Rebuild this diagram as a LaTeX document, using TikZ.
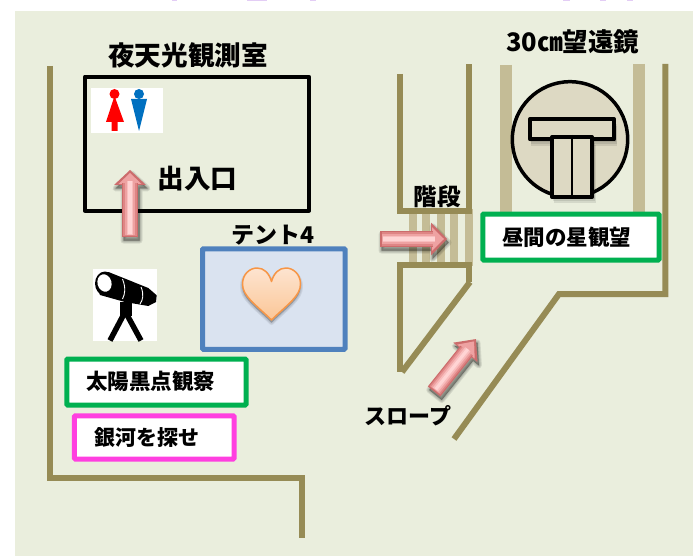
\documentclass[tikz,border=0pt]{standalone}
\usepackage{fontspec}
\setmainfont{Noto Sans CJK JP}
\definecolor{bgc}{HTML}{EAEEDD}
\definecolor{wall}{HTML}{968B55}
\definecolor{pale}{HTML}{C4BC96}
\definecolor{disc}{HTML}{DDD9C3}
\definecolor{grn}{HTML}{00B050}
\definecolor{mag}{HTML}{FF3FE0}
\definecolor{tentb}{HTML}{4F81BD}
\definecolor{tentf}{HTML}{DAE3F0}
\definecolor{bluem}{HTML}{0070C0}
\definecolor{lil}{HTML}{E3CDF5}
\definecolor{arA}{HTML}{CC6C6C}
\definecolor{arB}{HTML}{DE8585}
\definecolor{arC}{HTML}{EEA2A2}
\definecolor{arD}{HTML}{F8BEBE}
\definecolor{arE}{HTML}{FFD4D4}
\definecolor{heartb}{HTML}{F79646}
\definecolor{heartt}{HTML}{FDE4D0}
\definecolor{heartl}{HTML}{FBC696}
\tikzset{
  x=1pt,y=-1pt,
  wallline/.style={draw=wall,line width=6pt,line join=miter},
  paleline/.style={draw=pale,line width=8pt},
  blk/.style={draw=black,line width=4pt,line join=round},
  label/.style={font=\bfseries\fontsize{#1}{#1}\selectfont,inner sep=0pt,text=black},
  signbox/.style={draw=#1,fill=white,line width=5pt,rounded corners=1pt,inner sep=0pt},
}
\newcommand{\pinkarrow}[7]{%
  \pgfmathsetmacro{\arang}{atan2((#2)-(#4),(#3)-(#1))}%
  \pgfmathsetmacro{\arlen}{veclen((#3)-(#1),(#4)-(#2))}%
  \pgfmathsetmacro{\arbase}{\arlen-(#7)}%
  \begin{scope}[shift={(#1+1.5,#2+3.5)},rotate=\arang]
    \foreach \w in {6,4,2,0.5}
      \draw[black,opacity=.09,fill=black,line join=round,line width=\w pt]
        (0,-#5)--(\arbase,-#5)--(\arbase,-#6)--(\arlen,0)--(\arbase,#6)--(\arbase,#5)--(0,#5)--cycle;
  \end{scope}
  \begin{scope}[shift={(#1,#2)},rotate=\arang]
    \fill[arA] (\arbase,-#6)--(\arlen,0)--(\arbase,#6)--cycle;
    \fill[arC] (\arbase+1,-#6*.72)--(\arlen-3,0)--(\arbase+1,#6*.72)--cycle;
    \fill[arA] (0,-#5) rectangle (\arbase+2,#5);
    \fill[arB] (1.5,-#5*.85) rectangle (\arbase+2,#5*.85);
    \fill[arC] (2,-#5*.65) rectangle (\arbase+3,#5*.65);
    \fill[arD] (2.5,-#5*.42) rectangle (\arbase+4,#5*.42);
    \fill[arE] (3,-#5*.2) rectangle (\arbase+4,#5*.2);
  \end{scope}
}
\begin{document}
\begin{tikzpicture}
\useasboundingbox (0,0) rectangle (693,556);
\fill[white] (0,0) rectangle (693,556);
\fill[bgc] (15,11) rectangle (693,556);
% clipped fragments along the top edge
\fill[lil] (172,0) rectangle (177,1.5);
\fill[lil] (247,0) rectangle (267,1.5);
\fill[lil] (310,0) rectangle (316,1.5);
\fill[lil] (563,0) rectangle (570,1.5);
\fill[lil] (600,0) rectangle (606,1.5);
\fill[lil] (627,0) rectangle (633,1.5);

% walls, left area
\draw[wallline] (49.5,66) -- (49.5,477.5) -- (302,477.5) -- (302,537.5);

% stairs
\foreach \sx in {412.7,426,441,454.3,469}
  \draw[draw=pale,line width=8pt] (\sx,209) -- (\sx,266);
\draw[wallline] (400,74) -- (400,211) -- (469,211) -- (469,64);
\draw[wallline] (469,282) -- (469,265) -- (400,265) -- (400,372);
\draw[wallline] (402,372) -- (470,282);

% telescope room
\draw[paleline,line width=12pt] (506,65) -- (506,214);
\draw[paleline,line width=12pt] (639.3,64) -- (639.3,214);
\draw[wallline] (665.3,64) -- (665.3,294) -- (559,294) -- (454,439);

% night sky room
\draw[draw=black,line width=4pt,line join=round] (85,76.7) rectangle (309,210.7);
\node[label=26.6] (nightroom) at (188,55) {夜天光観測室};
\node[label=26.6] (entrance) at (197.5,179) {出入口};

% toilet sign
\fill[white] (91,88) rectangle (163,133);
\fill[red] (114.5,94) circle (5);
\fill[red] (114.5,96) -- (124,122) -- (117.7,122) -- (117.7,131) -- (111.7,131) -- (111.7,122) -- (106,122) -- cycle;
\fill[bluem] (139,94) circle (5);
\fill[bluem] (131,99) -- (147,99) -- (139,131) -- cycle;

% entrance arrow
\pinkarrow{130}{237}{130}{170}{8}{16}{15}

% tent
\node[label=23] (tentlabel) at (273,235.5) {テント4};
\node[draw=tentb,fill=tentf,line width=5pt,rounded corners=1pt,minimum width=142.5pt,minimum height=100.5pt,inner sep=0pt] (tent) at (273.75,299) {};
\foreach \w in {5,3,1}
  \draw[black,opacity=.07,line width=\w pt,line join=round,fill=black,shift={(0,2.5)}]
    (271.5,320) .. controls (255,304) and (242.5,296) .. (242.5,284) .. controls (242.5,274) and (250,268) .. (257,268) .. controls (264,268) and (269,273) .. (271.5,281.5) .. controls (274,273) and (279,268) .. (286,268) .. controls (293,268) and (300.5,274) .. (300.5,284) .. controls (300.5,296) and (288,304) .. (271.5,320) -- cycle;
\draw[draw=heartb,line width=1.5pt,top color=heartt,bottom color=heartl,line join=round]
    (271.5,320) .. controls (255,304) and (242.5,296) .. (242.5,284) .. controls (242.5,274) and (250,268) .. (257,268) .. controls (264,268) and (269,273) .. (271.5,281.5) .. controls (274,273) and (279,268) .. (286,268) .. controls (293,268) and (300.5,274) .. (300.5,284) .. controls (300.5,296) and (288,304) .. (271.5,320) -- cycle;

% telescope picture
\fill[white] (93,268.7) rectangle (157,341);
\fill[black] (103,272) -- (108.5,272) -- (148.3,288) -- (156.7,295.3) -- (156,302) -- (148.3,306) -- (125,302) -- (100,295) -- (96,284) -- cycle;
\fill[black] (105,283.5) ellipse (10 and 12);
\fill[white,rotate around={15:(104.5,283)}] (104.5,283) ellipse (7 and 8.8);
\draw[white,line width=.9pt] (122.5,279) .. controls (126,288) and (125,294) .. (122.5,299);
\draw[white,line width=.9pt] (141,287) .. controls (144,294) and (143,300) .. (140,304);
\fill[black] (119.5,302) rectangle (131.5,316);
\draw[black,line width=5.5pt] (124.5,313) -- (110,340.5);
\draw[black,line width=5.5pt] (126,313) -- (141,340.5);

% signs
\node[signbox=grn,minimum width=179.3pt,minimum height=46pt] (sunbox) at (156.4,382) {};
\node[label=21.5] (sun) at (150.5,381.7) {太陽黒点観察};
\node[signbox=mag,minimum width=159.7pt,minimum height=43.3pt] (galaxybox) at (154.2,437.4) {};
\node[label=21] (galaxy) at (146.7,437.7) {銀河を探せ};

% telescope dome
\node[draw=black,fill=disc,line width=3.5pt,circle,minimum size=115.4pt,inner sep=0pt] (dome) at (570,139.4) {};
\foreach \w in {5,3,1}
  \fill[black,opacity=.09] (530+\w*.2,121+\w) rectangle (616+\w*.2,141+\w);
\foreach \w in {6,4,2}
  \fill[black,opacity=.09] (552+\w*.3,139+\w) rectangle (594+\w*.3,197+\w);
\node[blk,fill=disc,minimum width=84pt,minimum height=20.5pt,inner sep=0pt] (tubetop) at (572,129.2) {};
\node[blk,fill=disc,minimum width=40pt,minimum height=60pt,inner sep=0pt] (tubestem) at (572,167) {};
\draw[black,line width=2.5pt] (tubestem.north) -- (tubestem.south);

\node[label=25.5] (scope) at (572.7,42) {30㎝望遠鏡};
\node[label=23.5] (stairs) at (437,197) {階段};
\node[signbox=grn,minimum width=176.3pt,minimum height=46pt] (daybox) at (570.9,237) {};
\node[label=21.5] (daystar) at (566.7,237) {昼間の星観望};

% arrows
\pinkarrow{380}{239}{447}{239}{8}{16.5}{16}
\pinkarrow{434}{391.5}{476}{339}{8}{15.5}{17}
\node[label=22] (slope) at (408,416) {スロープ};
\end{tikzpicture}
\end{document}
